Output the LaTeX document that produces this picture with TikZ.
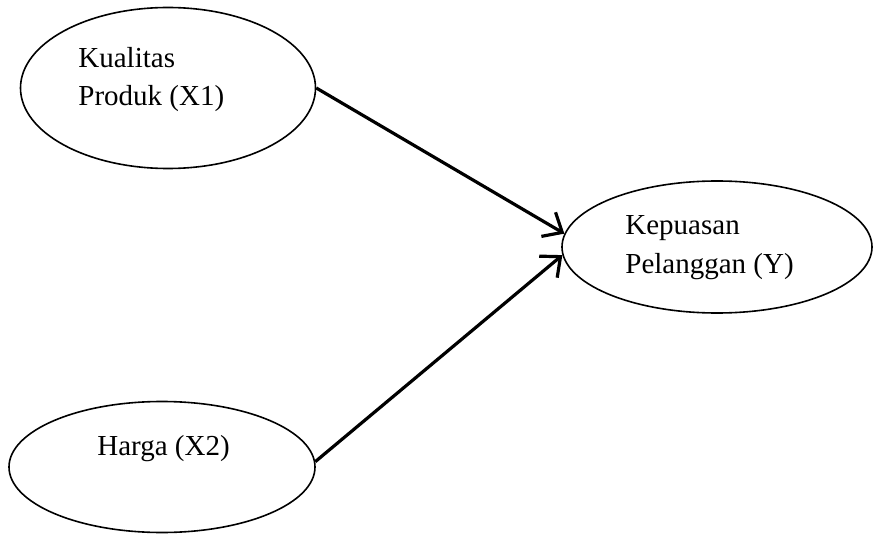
\documentclass[tikz,border=0pt]{standalone}
\usepackage{fontspec}
\setmainfont{Liberation Serif}
\usetikzlibrary{arrows.meta, shapes.geometric, positioning}
\tikzstyle{latent}=[ellipse, draw=black, line width=0.8pt, inner sep=0pt]
\tikzstyle{caption}=[align=left, inner sep=0pt, anchor=base west, font=\fontsize{14.5}{19.5}\selectfont]
\tikzstyle{link}=[->, line width=1.6pt]

\begin{document}
\begin{tikzpicture}[x=0.5pt, y=-0.5pt, >={Straight Barb[length=8pt, width=14pt]}]
      \useasboundingbox (0,0) rectangle (873,535);

      \node[latent, minimum width=147.5pt, minimum height=80.5pt] (x1) at (168,88) {};
      \node[latent, minimum width=153pt, minimum height=65.5pt]   (x2) at (162,467) {};
      \node[latent, minimum width=155pt, minimum height=66pt]     (y)  at (717,247) {};

      % base anchor sits on the last line
      \node[caption] (x1text) at (78,106)  {Kualitas\\Produk (X1)};
      \node[caption] (x2text) at (97,455)  {Harga (X2)};
      \node[caption] (ytext)  at (625,273) {Kepuasan\\Pelanggan (Y)};

      \draw[link] (x1.east) -- (y.175);
      \draw[link] (x2.2)    -- (y.183);
    \end{tikzpicture}
\end{document}
